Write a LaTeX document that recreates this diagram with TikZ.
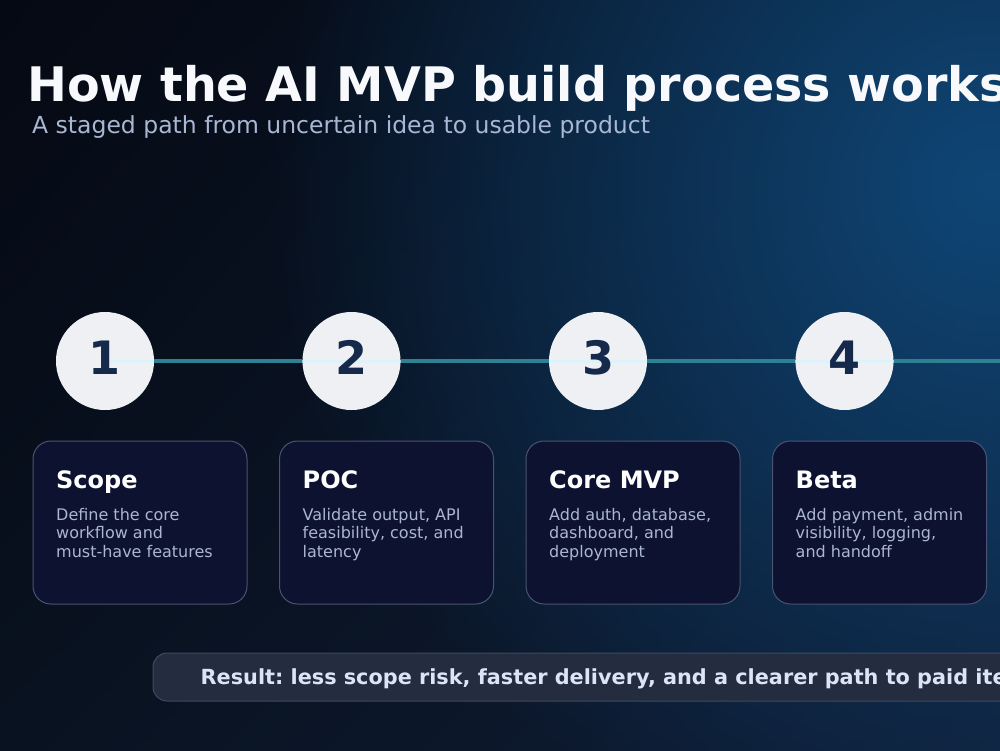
\documentclass[tikz,border=0pt]{standalone}
\usepackage{fontspec}
\setmainfont{DejaVu Sans}
\usetikzlibrary{fadings,shadings}
\definecolor{bgTL}{HTML}{050913}
\definecolor{bgTR}{HTML}{0A1628}
\definecolor{bgBL}{HTML}{091220}
\definecolor{bgBR}{HTML}{0F1D36}
\definecolor{glowcol}{HTML}{0F4676}
\definecolor{titlecol}{HTML}{F7F9FC}
\definecolor{subcol}{HTML}{A9B7D4}
\definecolor{linecol}{HTML}{2E8093}
\definecolor{circfill}{HTML}{EEF0F3}
\definecolor{numcol}{HTML}{15294A}
\definecolor{cardfill}{HTML}{0C1230}
\definecolor{carddraw}{HTML}{4A5470}
\definecolor{bodycol}{HTML}{AAB6D2}
\definecolor{resfill}{HTML}{242D3F}
\definecolor{resdraw}{HTML}{3F4A5E}
\definecolor{restext}{HTML}{DCE5F5}
\tikzfading[name=glowfade, inner color=transparent!0, outer color=transparent!100]
\tikzset{
  stepcircle/.style={circle, fill=circfill, minimum size=98pt, inner sep=0pt},
  stepnum/.style={anchor=base, text=numcol, font=\fontsize{46}{46}\selectfont\bfseries, inner sep=0pt},
  stepcard/.style={rectangle, rounded corners=18pt, draw=carddraw, line width=1pt, fill=cardfill, minimum width=214pt, minimum height=163pt, inner sep=0pt},
  cardtitle/.style={anchor=base west, text=white, font=\fontsize{24}{24}\selectfont\bfseries, inner sep=0pt},
  cardbody/.style={anchor=base west, text=bodycol, font=\fontsize{16}{18.7}\selectfont, inner sep=0pt, align=left},
  timeline/.style={line width=4pt, draw=linecol},
  innerline/.style={line width=3pt, draw=white!85!cyan, draw opacity=0.7}
}
\begin{document}
\frenchspacing
\begin{tikzpicture}[x=1pt,y=-1pt]
\useasboundingbox (0,0) rectangle (1000,750);
\clip (0,0) rectangle (1000,750);
% background
\shade[upper left=bgTL, upper right=bgTR, lower left=bgBL, lower right=bgBR] (0,0) rectangle (1000,750);
\fill[glowcol, path fading=glowfade] (990,185) circle (720);
% title
\node[anchor=base west, inner sep=0pt, text=titlecol, font=\fontsize{47.6}{47.6}\selectfont\bfseries] (title) at (27,101) {How the AI MVP build process works};
\node[anchor=base west, inner sep=0pt, text=subcol, font=\fontsize{23.5}{23.5}\selectfont] (subtitle) at (32,133) {A staged path from uncertain idea to usable product};
% circles
\coordinate (lineend) at (1010,361);
\node[stepcircle] (c1) at (105,361) {};
\node[stepcircle] (c2) at (351.5,361) {};
\node[stepcircle] (c3) at (598,361) {};
\node[stepcircle] (c4) at (844.5,361) {};
\draw[timeline] (c1.east) -- (c2.west);
\draw[timeline] (c2.east) -- (c3.west);
\draw[timeline] (c3.east) -- (c4.west);
\draw[timeline] (c4.east) -- (lineend);
\draw[innerline] (c1.center) -- (c1.east);
\draw[innerline] (c2.west) -- (c2.east);
\draw[innerline] (c3.west) -- (c3.east);
\draw[innerline] (c4.west) -- (c4.east);
\node[stepnum] (n1) at (105,374) {1};
\node[stepnum] (n2) at (351.5,374) {2};
\node[stepnum] (n3) at (598,374) {3};
\node[stepnum] (n4) at (844.5,374) {4};
% cards
\node[stepcard] (k1) at (140,522.5) {};
\node[stepcard] (k2) at (386.5,522.5) {};
\node[stepcard] (k3) at (633,522.5) {};
\node[stepcard] (k4) at (879.5,522.5) {};
\node[cardtitle] (t1) at (56,488) {Scope};
\node[cardtitle] (t2) at (302.5,488) {POC};
\node[cardtitle] (t3) at (549,488) {Core MVP};
\node[cardtitle] (t4) at (795.5,488) {Beta};
\node[cardbody] (b1) at (56,557.4) {Define the core\\workflow and\\must-have features};
\node[cardbody] (b2) at (302.5,557.4) {Validate output, API\\feasibility, cost, and\\latency};
\node[cardbody] (b3) at (549,557.4) {Add auth, database,\\dashboard, and\\deployment};
\node[cardbody] (b4) at (795.5,557.4) {Add payment, admin\\visibility, logging,\\and handoff};
% result
\node[rectangle, rounded corners=14pt, draw=resdraw, line width=1pt, fill=resfill, minimum width=900pt, minimum height=48pt, inner sep=0pt] (result) at (603,677) {};
\node[anchor=base west, inner sep=0pt, text=restext, font=\fontsize{20.8}{20.8}\selectfont\bfseries] (restxt) at (200.5,684) {Result: less scope risk, faster delivery, and a clearer path to paid iteration};
\end{tikzpicture}
\end{document}
